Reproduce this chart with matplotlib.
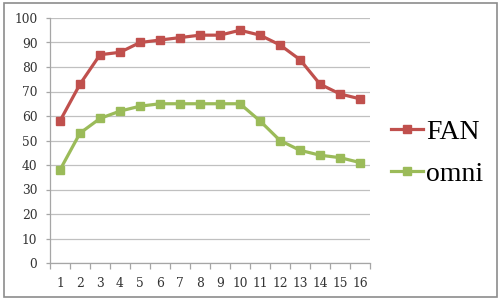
import matplotlib.pyplot as plt
from matplotlib.patches import Rectangle

# data
categories = list(range(1, 17))
fan = [58, 73, 85, 86, 90, 91, 92, 93, 93, 95, 93, 89, 83, 73, 69, 67]
omni = [38, 53, 59, 62, 64, 65, 65, 65, 65, 65, 58, 50, 46, 44, 43, 41]

plt.rcParams['font.family'] = ['DejaVu Serif']

fig = plt.figure(figsize=(5.0, 3.02), dpi=100)
W, H = 500, 302
ax = fig.add_axes([50 / W, 1 - 263 / H, 320 / W, 245 / H])

# outer chart border
fig.patches.append(Rectangle((4 / W, 1 - 297 / H), 493 / W, 294 / H, transform=fig.transFigure,
                             fill=False, edgecolor='#8c8c8c', linewidth=1.2))

ax.plot(categories, fan, color='#C0504D', linewidth=2.3, marker='s', markersize=5.5, label='FAN')
ax.plot(categories, omni, color='#9BBB59', linewidth=2.3, marker='s', markersize=5.5, label='omni')

ax.set_xlim(0.5, 16.5)
ax.set_ylim(0, 100)
ax.set_yticks(range(0, 101, 10))
ax.set_xticks(categories)
ax.set_xticks([c + 0.5 for c in [0] + categories], minor=True)
ax.grid(axis='y', color='#c0c0c0', linewidth=0.9)
ax.set_axisbelow(True)

for s in ['top', 'right']:
    ax.spines[s].set_visible(False)
for s in ['left', 'bottom']:
    ax.spines[s].set_color('#a6a6a6')
    ax.spines[s].set_linewidth(0.9)

ax.tick_params(axis='x', which='major', length=0, pad=10, labelsize=8.8, labelcolor='#333333')
ax.tick_params(axis='x', which='minor', length=4, color='#a6a6a6', width=0.9)
ax.tick_params(axis='y', length=3, color='#a6a6a6', width=0.9, labelsize=8.8, pad=6,
               labelcolor='#333333')

leg = ax.legend(loc='center left', bbox_to_anchor=(380 / W, 1 - 153 / H), bbox_transform=fig.transFigure,
                frameon=False, handlelength=1.15, handletextpad=0.1, labelspacing=0.6,
                borderaxespad=0, prop={'family': 'Liberation Serif', 'size': 20})

fig.savefig('out.png', dpi=100)
